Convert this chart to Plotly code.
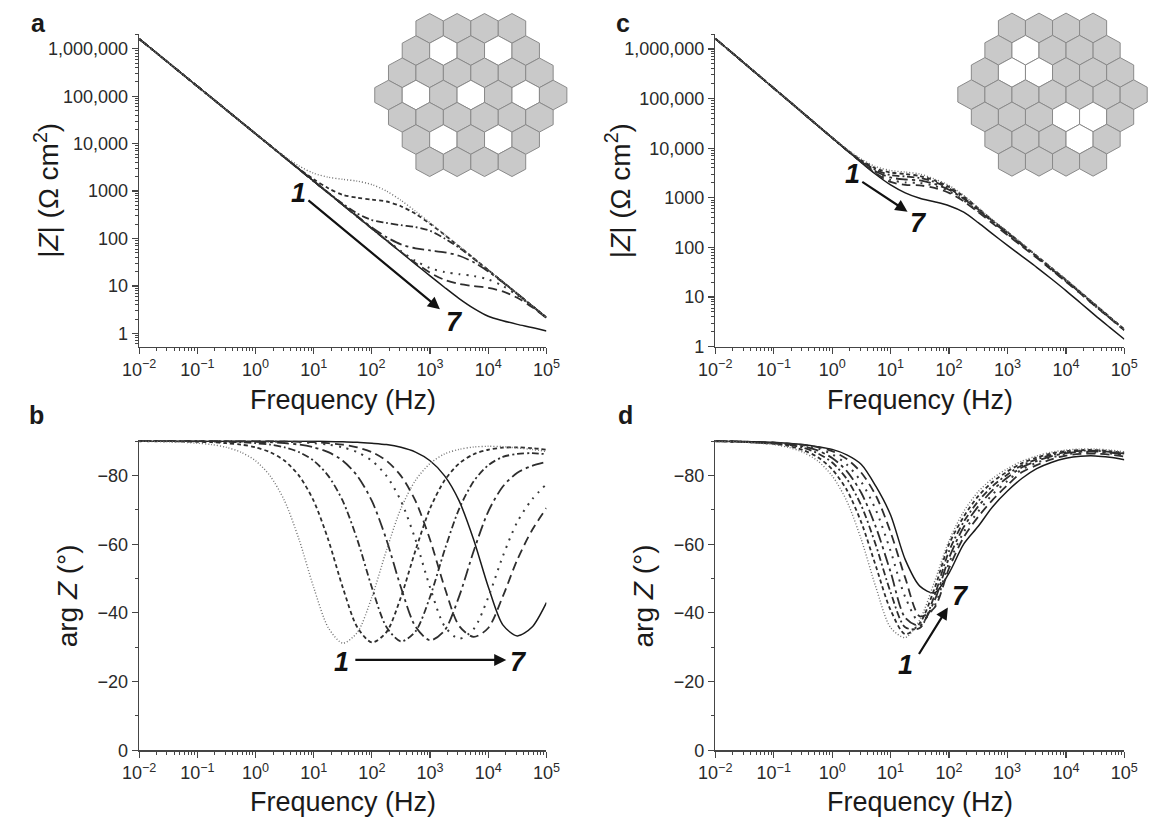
import plotly.graph_objects as go

# ---------------- data ----------------
FREQ = [0.01, 0.0178, 0.0316, 0.0562, 0.1, 0.178, 0.316, 0.562, 1, 1.78, 3.16, 5.62,
        10, 17.8, 31.6, 56.2, 100, 178, 316, 562, 1000, 1780, 3160, 5620,
        10000, 17800, 31600, 56200, 100000]

# panel a : |Z| (ohm cm2), curves 1..7
A1 = [1620000, 912000, 513000, 288000, 162000, 91200, 51300, 28800, 16300, 9290, 5420, 3370, 2380, 1960, 1770, 1620, 1370, 1000, 638, 376, 215, 121, 68.4, 38.5, 21.6, 12.2, 6.84, 3.85, 2.16]
A2 = [1620000, 912000, 513000, 288000, 162000, 91200, 51300, 28800, 16200, 9120, 5160, 2940, 1780, 1150, 832, 724, 661, 603, 479, 331, 204, 119, 67.9, 38.4, 21.6, 12.2, 6.84, 3.85, 2.16]
A3 = [1620000, 912000, 513000, 288000, 162000, 91200, 51300, 28800, 16200, 9120, 5130, 2880, 1630, 929, 542, 337, 245, 214, 191, 174, 145, 100, 63.8, 37.6, 21.5, 12.1, 6.84, 3.85, 2.16]
A4 = [1620000, 912000, 513000, 288000, 162000, 91200, 51300, 28800, 16200, 9120, 5130, 2880, 1620, 912, 516, 294, 171, 107, 75.3, 61.8, 56.0, 51.2, 43.3, 31.6, 20.2, 11.9, 6.79, 3.84, 2.16]
A5 = [1620000, 912000, 513000, 288000, 162000, 91200, 51300, 28800, 16200, 9120, 5130, 2880, 1620, 912, 513, 288, 163, 92.9, 54.2, 33.7, 23.8, 19.6, 17.7, 16.2, 13.7, 10.0, 6.38, 3.76, 2.15]
A6 = [1620000, 912000, 513000, 288000, 162000, 91200, 51300, 28800, 16200, 9120, 5130, 2880, 1620, 912, 513, 288, 162, 91.8, 52.2, 30.5, 19.0, 13.4, 11.0, 9.95, 9.10, 7.69, 5.62, 3.59, 2.11]
A7 = [1620000, 912000, 513000, 288000, 162000, 91200, 51300, 28800, 16200, 9120, 5130, 2880, 1620, 912, 513, 288, 162, 91.2, 51.3, 28.8, 16.3, 9.29, 5.42, 3.37, 2.30, 1.85, 1.55, 1.33, 1.12]

# panel b : arg Z (deg), curves 1..7
B1 = [-90.0, -89.9, -89.8, -89.7, -89.4, -89.0, -88.2, -86.8, -84.3, -79.9, -72.6, -61.3, -47.4, -35.7, -31.2, -34.3, -44.6, -58.2, -70.4, -78.6, -83.5, -86.3, -87.6, -88.3, -88.5, -88.4, -88.0, -87.6, -87.0]
B2 = [-90.0, -90.0, -90.0, -89.9, -89.8, -89.7, -89.4, -89.0, -88.2, -86.8, -84.3, -79.9, -72.6, -61.3, -47.4, -35.8, -31.4, -34.4, -44.6, -58.2, -70.4, -78.6, -83.5, -86.2, -87.5, -88.1, -88.2, -88.0, -87.5]
B3 = [-90.0, -90.0, -90.0, -90.0, -90.0, -89.9, -89.8, -89.7, -89.4, -89.0, -88.2, -86.8, -84.3, -79.9, -72.6, -61.3, -47.4, -35.9, -31.7, -34.6, -44.7, -58.3, -70.3, -78.3, -83.0, -85.4, -86.3, -86.5, -86.2]
B4 = [-90.0, -90.0, -90.0, -90.0, -90.0, -90.0, -90.0, -89.9, -89.8, -89.7, -89.4, -89.0, -88.2, -86.8, -84.3, -79.9, -72.6, -61.3, -47.4, -36.0, -32.0, -34.9, -44.8, -58.0, -69.5, -76.8, -80.8, -82.8, -84.0]
B5 = [-90.0, -90.0, -90.0, -90.0, -90.0, -90.0, -90.0, -90.0, -90.0, -89.9, -89.8, -89.7, -89.4, -89.0, -88.2, -86.8, -84.3, -79.9, -72.6, -61.3, -47.4, -36.1, -32.5, -35.3, -44.5, -56.5, -66.5, -73.0, -77.5]
B6 = [-90.0, -90.0, -90.0, -90.0, -90.0, -90.0, -90.0, -90.0, -90.0, -90.0, -89.9, -89.8, -89.7, -89.4, -89.0, -88.2, -86.8, -84.3, -79.9, -72.6, -61.3, -47.4, -36.2, -33.0, -35.6, -44.8, -55.5, -64.0, -70.5]
B7 = [-90.0, -90.0, -90.0, -90.0, -90.0, -90.0, -90.0, -90.0, -90.0, -90.0, -90.0, -90.0, -90.0, -89.9, -89.8, -89.7, -89.4, -89.0, -88.2, -86.8, -84.3, -79.9, -72.6, -61.3, -47.6, -36.5, -33.3, -35.8, -43.0]

# panel c : |Z| (ohm cm2), curves 1..7
C1 = [1620000, 912000, 513000, 288000, 162000, 91200, 51300, 29000, 16500, 9640, 6000, 4240, 3550, 3310, 3020, 2400, 1780, 1120, 631, 355, 209, 120, 69.2, 39.8, 22.9, 12.6, 7.08, 3.98, 2.24]
C2 = [1620000, 912000, 513000, 288000, 162000, 91200, 51300, 28800, 16200, 9330, 5690, 3890, 3240, 3020, 2750, 2240, 1660, 1070, 617, 347, 204, 117, 67.6, 38.9, 22.4, 12.6, 7.08, 3.98, 2.24]
C3 = [1620000, 912000, 513000, 288000, 162000, 91200, 51300, 28800, 16200, 9230, 5500, 3630, 2880, 2690, 2510, 2090, 1550, 1000, 589, 339, 200, 115, 66.1, 38.0, 21.9, 12.3, 6.92, 3.89, 2.21]
C4 = [1620000, 912000, 513000, 288000, 162000, 91200, 51300, 28800, 16200, 9120, 5370, 3390, 2570, 2340, 2240, 1910, 1450, 955, 562, 324, 191, 112, 64.6, 37.2, 21.4, 12.0, 6.76, 3.85, 2.19]
C5 = [1620000, 912000, 513000, 288000, 162000, 91200, 51300, 28800, 16200, 9120, 5250, 3240, 2290, 2040, 2000, 1740, 1350, 891, 537, 316, 186, 110, 63.1, 36.3, 20.9, 11.7, 6.61, 3.80, 2.16]
C6 = [1620000, 912000, 513000, 288000, 162000, 91200, 51300, 28800, 16200, 9120, 5190, 3090, 2090, 1820, 1780, 1580, 1260, 851, 513, 302, 178, 105, 61.7, 35.5, 20.4, 11.7, 6.61, 3.76, 2.14]
C7 = [1620000, 912000, 513000, 288000, 162000, 91200, 51300, 28800, 16200, 9120, 5130, 2950, 1820, 1260, 977, 832, 692, 513, 316, 186, 110, 66.1, 39.8, 23.4, 13.5, 7.59, 4.27, 2.45, 1.41]

# panel d : arg Z (deg), curves 1..7
D1 = [-89.9, -89.8, -89.7, -89.4, -89.0, -88.2, -86.8, -84.3, -79.9, -72.6, -61.3, -47.4, -35.7, -32.8, -38.0, -49.0, -61.0, -69.5, -75.3, -79.2, -82.0, -84.2, -85.7, -86.8, -87.4, -87.7, -87.7, -87.4, -86.9]
D2 = [-90.0, -89.9, -89.75, -89.5, -89.2, -88.6, -87.4, -85.4, -81.8, -75.8, -66.3, -53.5, -40.8, -33.8, -37.0, -47.0, -60.0, -68.0, -74.0, -78.2, -81.2, -83.6, -85.2, -86.4, -87.1, -87.4, -87.4, -87.1, -86.6]
D3 = [-90.0, -89.9, -89.8, -89.55, -89.35, -88.9, -88.1, -86.5, -83.8, -79.0, -71.2, -59.6, -46.0, -35.8, -35.6, -45.0, -58.0, -66.5, -72.5, -77.0, -80.3, -83.0, -84.7, -86.0, -86.8, -87.2, -87.2, -86.9, -86.4]
D4 = [-90.0, -89.9, -89.8, -89.6, -89.45, -89.1, -88.5, -87.3, -85.1, -81.3, -74.9, -64.9, -51.9, -38.6, -36.3, -43.5, -56.0, -65.0, -71.0, -75.8, -79.4, -82.4, -84.2, -85.6, -86.5, -86.9, -87.0, -86.7, -86.1]
D5 = [-90.0, -90.0, -89.85, -89.65, -89.5, -89.2, -88.8, -87.9, -86.2, -83.2, -78.1, -69.9, -58.0, -44.6, -37.2, -42.0, -54.5, -63.5, -69.5, -74.6, -78.4, -81.8, -83.7, -85.2, -86.2, -86.6, -86.7, -86.4, -85.8]
D6 = [-90.0, -90.0, -89.85, -89.7, -89.6, -89.3, -88.9, -88.3, -87.1, -84.8, -80.8, -74.1, -63.5, -50.2, -39.0, -41.5, -53.0, -62.0, -68.0, -73.0, -77.2, -81.0, -83.0, -84.7, -85.8, -86.3, -86.4, -86.1, -85.5]
D7 = [-90.0, -90.0, -89.9, -89.8, -89.7, -89.4, -89.0, -88.4, -87.6, -86.0, -83.2, -76.8, -68.5, -55.5, -47.8, -45.8, -51.6, -60.0, -65.2, -71.0, -75.5, -79.2, -82.0, -83.8, -85.0, -85.6, -85.7, -85.3, -84.6]

X_TICKS = [0.01, 0.1, 1, 10, 100, 1000, 10000, 100000]
X_TICKTEXT = ["10<sup>\u22122</sup>", "10<sup>\u22121</sup>", "10<sup>0</sup>", "10<sup>1</sup>",
              "10<sup>2</sup>", "10<sup>3</sup>", "10<sup>4</sup>", "10<sup>5</sup>"]
Z_TICKS = [1, 10, 100, 1000, 10000, 100000, 1000000]
Z_TICKTEXT = ["1", "10", "100", "1000", "10,000", "100,000", "1,000,000"]
P_TICKS = [0, -20, -40, -60, -80]
P_TICKTEXT = ["0", "\u221220", "\u221240", "\u221260", "\u221280"]

# inset hexagon pattern: cells per row, and white (row, index) cells
HEX_ROWS = [4, 5, 6, 7, 6, 5, 4]
WHITE_A = [(1, 1), (1, 3), (3, 1), (3, 3), (3, 5), (5, 1), (5, 3)]
WHITE_C = [(1, 1), (2, 1), (2, 2), (4, 3), (4, 4), (5, 3)]

# ---------------- figure ----------------
W, H = 1158, 830
FONT = "Liberation Sans, Arial, sans-serif"


def px(x):
    return x / W


def py(y):
    return 1 - y / H


STYLES = [
    dict(color="#707070", width=1.4, dash="1px,2px"),
    dict(color="#2e2e2e", width=1.8, dash="4px,3px"),
    dict(color="#2e2e2e", width=1.8, dash="7px,3px,2px,3px"),
    dict(color="#2e2e2e", width=1.8, dash="12px,4px,3px,4px"),
    dict(color="#3a3a3a", width=2.0, dash="2px,6px"),
    dict(color="#2e2e2e", width=1.8, dash="9px,5px"),
    dict(color="#1a1a1a", width=1.5, dash="solid"),
]

fig = go.Figure()
panels = [
    ([A1, A2, A3, A4, A5, A6, A7], "x", "y"),
    ([C1, C2, C3, C4, C5, C6, C7], "x2", "y2"),
    ([B1, B2, B3, B4, B5, B6, B7], "x3", "y3"),
    ([D1, D2, D3, D4, D5, D6, D7], "x4", "y4"),
]
for series, xa, ya in panels:
    for k in range(6, -1, -1):
        fig.add_trace(go.Scatter(x=FREQ, y=series[k], xaxis=xa, yaxis=ya, mode="lines",
                                 line=dict(shape="spline", smoothing=0.8, **STYLES[k]),
                                 showlegend=False, hoverinfo="skip"))

AX = "#454545"
x_minor = [m * 10 ** e for e in range(-2, 5) for m in range(2, 10)]
z_minor = [m * 10 ** e for e in range(-1, 7) for m in range(2, 10)]
p_minor = [-10, -30, -50, -70, -90]
tickfont = dict(family=FONT, size=18, color="#2a2a2a")


def xcfg(domain, anchor):
    return dict(type="log", range=[-2, 5], domain=domain, anchor=anchor,
                tickmode="array", tickvals=X_TICKS, ticktext=X_TICKTEXT,
                ticks="outside", ticklen=6, tickwidth=1.2, tickcolor=AX,
                showline=True, linecolor=AX, linewidth=1.4, showgrid=False, zeroline=False,
                minor=dict(tickmode="array", tickvals=x_minor, ticks="outside", ticklen=3,
                           tickwidth=1, tickcolor=AX, showgrid=False),
                tickfont=tickfont)


def zcfg(domain, anchor, rng):
    return dict(type="log", range=rng, domain=domain, anchor=anchor,
                tickmode="array", tickvals=Z_TICKS, ticktext=Z_TICKTEXT,
                ticks="outside", ticklen=6, tickwidth=1.2, tickcolor=AX,
                showline=True, linecolor=AX, linewidth=1.4, showgrid=False, zeroline=False,
                minor=dict(tickmode="array", tickvals=z_minor, ticks="outside", ticklen=3,
                           tickwidth=1, tickcolor=AX, showgrid=False),
                tickfont=tickfont)


def pcfg(domain, anchor):
    return dict(range=[0, -90.3], domain=domain, anchor=anchor,
                tickmode="array", tickvals=P_TICKS, ticktext=P_TICKTEXT,
                ticks="outside", ticklen=6, tickwidth=1.2, tickcolor=AX,
                showline=True, linecolor=AX, linewidth=1.4, showgrid=False, zeroline=False,
                minor=dict(tickmode="array", tickvals=p_minor, ticks="outside", ticklen=3,
                           tickwidth=1, tickcolor=AX, showgrid=False),
                tickfont=tickfont)


XL = [px(125.5), px(544.0)]
XR = [px(717.5), px(1137.8)]
YT = [py(350.9), py(34.0)]
YB = [py(759.4), py(445.5)]

fig.update_layout(
    width=W, height=H, autosize=False,
    margin=dict(l=0, r=0, t=0, b=0),
    paper_bgcolor="white", plot_bgcolor="white",
    font=dict(family=FONT, color="#222"),
    xaxis=xcfg(XL, "y"), yaxis=zcfg(YT, "x", [-0.28, 6.32]),
    xaxis2=xcfg(XR, "y2"), yaxis2=zcfg(YT, "x2", [0, 6.31]),
    xaxis3=xcfg(XL, "y3"), yaxis3=pcfg(YB, "x3"),
    xaxis4=xcfg(XR, "y4"), yaxis4=pcfg(YB, "x4"),
)

ann = []


def txt(x, y, s, size, angle=0, xref="paper", yref="paper"):
    ann.append(dict(x=x, y=y, xref=xref, yref=yref, text=s, showarrow=False,
                    textangle=angle, xanchor="center", yanchor="middle",
                    font=dict(family=FONT, size=size, color="#1a1a1a")))


# panel letters
txt(px(22), py(23), "<b>a</b>", 25)
txt(px(20), py(420), "<b>b</b>", 25)
txt(px(623), py(23), "<b>c</b>", 25)
txt(px(625), py(420), "<b>d</b>", 25)
# axis titles
txt(px(335), py(405), "Frequency (Hz)", 27)
txt(px(928), py(405), "Frequency (Hz)", 27)
txt(px(335), py(812), "Frequency (Hz)", 27)
txt(px(928), py(812), "Frequency (Hz)", 27)
txt(px(30), py(193), "|<i>Z</i>| (\u03a9 cm<sup>2</sup>)", 28, -90)
txt(px(617), py(193), "|<i>Z</i>| (\u03a9 cm<sup>2</sup>)", 28, -90)
txt(px(52), py(603), "arg <i>Z</i> (\u00b0)", 28, -90)
txt(px(644), py(603), "arg <i>Z</i> (\u00b0)", 28, -90)


def arrow(xr, yr, x0, y0, x1, y1, lab1, lab7):
    ann.append(dict(x=x1, y=y1, ax=x0, ay=y0, xref=xr, yref=yr, axref=xr, ayref=yr,
                    text="", showarrow=True, arrowhead=2, arrowsize=1.1, arrowwidth=2.2,
                    arrowcolor="#111", standoff=0, startstandoff=0))
    for (lx, ly), s in ((lab1, "1"), (lab7, "7")):
        ann.append(dict(x=lx, y=ly, xref=xr, yref=yr, text="<b><i>" + s + "</i></b>",
                        showarrow=False, xanchor="center", yanchor="middle",
                        font=dict(family=FONT, size=27, color="#111")))


arrow("x", "y", 0.884, 2.83, 3.17, 0.51, (0.745, 2.96), (3.42, 0.24))
arrow("x2", "y2", 0.49, 3.34, 1.29, 2.72, (0.34, 3.48), (1.47, 2.50))
arrow("x3", "y3", 1.69, -26.3, 4.31, -26.3, (1.48, -25.8), (4.52, -25.8))
arrow("x4", "y4", 1.47, -27.6, 1.98, -41.6, (1.25, -24.7), (2.2, -45.0))

fig.update_layout(annotations=ann)


def hex_shapes(cx, cy, w, h, white):
    out = []
    s = 0.75 * h
    for r, n in enumerate(HEX_ROWS):
        yc = cy + (r - 3) * s
        for i in range(n):
            xc = cx + (i - (n - 1) / 2) * w
            pts = [(xc, yc - h / 2), (xc + w / 2, yc - h / 4), (xc + w / 2, yc + h / 4),
                   (xc, yc + h / 2), (xc - w / 2, yc + h / 4), (xc - w / 2, yc - h / 4)]
            path = "M " + " L ".join(f"{px(a):.5f},{py(b):.5f}" for a, b in pts) + " Z"
            out.append(dict(type="path", xref="paper", yref="paper", path=path,
                            fillcolor="white" if (r, i) in white else "#c9c9c9",
                            line=dict(color="#8a8a8a", width=1)))
    return out


shapes = hex_shapes(466.3, 96.2, 28.2, 30.0, WHITE_A) + hex_shapes(1064.0, 95.8, 27.8, 30.0, WHITE_C)
fig.update_layout(shapes=shapes)

fig.write_html("out.html", config={"displayModeBar": False, "staticPlot": True},
               post_script="document.body.style.margin='0px';")
